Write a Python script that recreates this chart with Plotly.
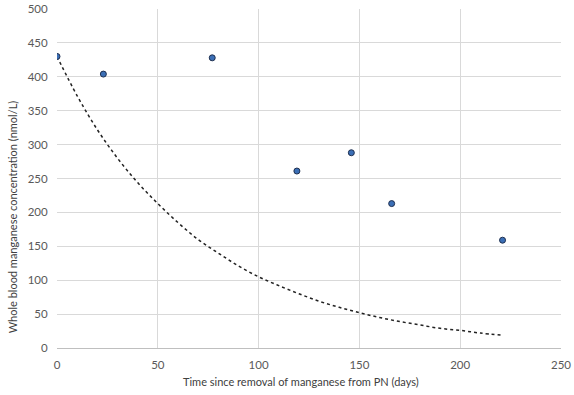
import plotly.graph_objects as go

# Observed data
days = [0, 23, 77, 119, 146, 166, 221]
mn_conc = [430, 404, 428, 261, 288, 213, 159]

# Exponential trend line
trend_days = [0, 10, 20, 30, 40, 50, 60, 70, 80, 90, 100, 110, 120, 130, 140, 150,
              160, 170, 180, 190, 200, 210, 220]
trend_conc = [430, 372, 322, 280, 244, 213, 185, 160, 140, 121, 105, 92, 80, 69, 60, 52,
              45, 39, 34, 29, 26, 22, 19]

x_ticks = [0, 50, 100, 150, 200, 250]
y_ticks = [0, 50, 100, 150, 200, 250, 300, 350, 400, 450, 500]

x_title = "Time since removal of manganese from PN (days)"
y_title = "Whole blood manganese concentration (nmol/L)"

fig = go.Figure()
fig.add_trace(go.Scatter(
    x=trend_days, y=trend_conc, mode="lines",
    line=dict(color="#222222", width=1.5, dash="dot", shape="spline"),
    showlegend=False, hoverinfo="skip"))
fig.add_trace(go.Scatter(
    x=days, y=mn_conc, mode="markers",
    marker=dict(size=6, color="#3b6fb6", line=dict(color="#1f3050", width=1)),
    showlegend=False))

font_family = "Lato, Open Sans, Liberation Sans, Arial, sans-serif"
fig.update_layout(
    width=574, height=395,
    margin=dict(l=57, r=13, t=9, b=47),
    paper_bgcolor="white", plot_bgcolor="white",
    font=dict(family=font_family, size=12, color="#595959"),
    xaxis=dict(
        range=[0, 250], tickvals=x_ticks, showgrid=True, gridcolor="#d9d9d9",
        gridwidth=1, zeroline=False, showline=True, linecolor="#bfbfbf",
        ticks="outside", ticklen=6, tickcolor="rgba(0,0,0,0)",
        tickfont=dict(size=11.5, color="#595959"), automargin=False),
    yaxis=dict(
        range=[0, 500], tickvals=y_ticks, showgrid=True, gridcolor="#d9d9d9",
        gridwidth=1, zeroline=False, showline=False,
        ticks="outside", ticklen=6, tickcolor="rgba(0,0,0,0)",
        tickfont=dict(size=11.5, color="#595959"), automargin=False),
    annotations=[
        dict(text=x_title, xref="paper", yref="paper", x=0.484, y=-0.1,
             xanchor="center", yanchor="middle", showarrow=False,
             font=dict(size=11, color="#404040")),
        dict(text=y_title, xref="paper", yref="paper", x=-0.089, y=0.386,
             xanchor="center", yanchor="middle", showarrow=False, textangle=-90,
             font=dict(size=11, color="#404040")),
    ],
)

fig.write_html("out.html", config={"displayModeBar": False},
               post_script="document.body.style.margin='0';")
